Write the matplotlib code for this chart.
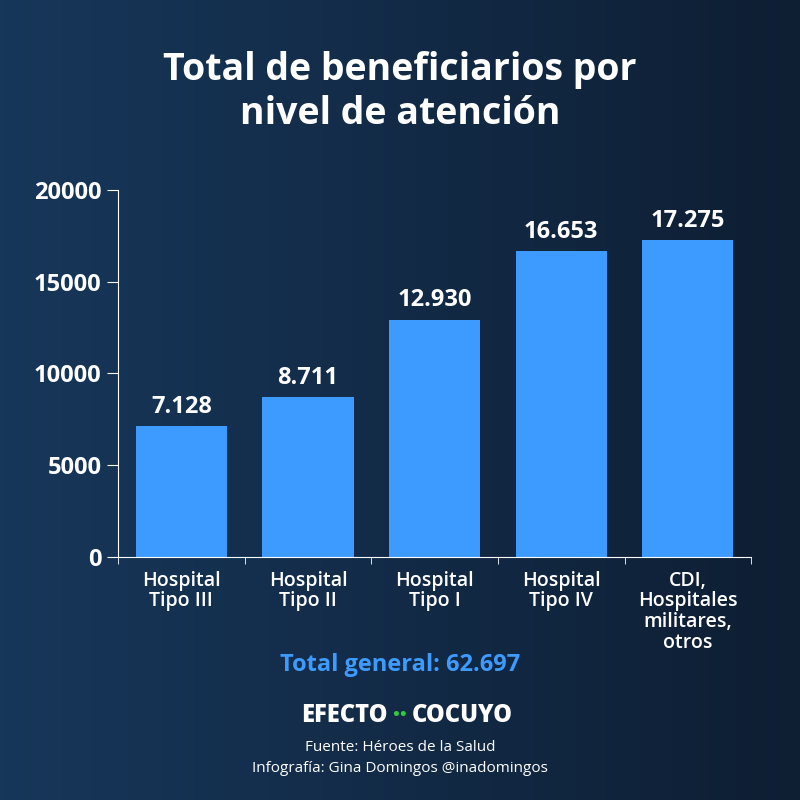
import matplotlib
matplotlib.use("Agg")
import matplotlib.pyplot as plt
import numpy as np
from matplotlib.colors import LinearSegmentedColormap

categories = ["Hospital\nTipo III", "Hospital\nTipo II", "Hospital\nTipo I", "Hospital\nTipo IV", "CDI,\nHospitales\nmilitares,\notros"]
values = [7128, 8711, 12930, 16653, 17275]
value_labels = ["7.128", "8.711", "12.930", "16.653", "17.275"]
yticks = [0, 5000, 10000, 15000, 20000]

plt.rcParams['font.family'] = ['Open Sans', 'DejaVu Sans']
fig = plt.figure(figsize=(8, 8), dpi=100)
bg = fig.add_axes([0, 0, 1, 1])
grad = np.linspace(0, 1, 256)[None, :]
cmap = LinearSegmentedColormap.from_list("bg", ["#17375a", "#0e1e33"])
bg.imshow(grad, aspect="auto", cmap=cmap, extent=[0, 1, 0, 1])
bg.axis("off")

ax = fig.add_axes([0.1475, 0.304, 0.7915, 0.4585])
ax.patch.set_alpha(0)
x = np.arange(len(categories))
ax.bar(x, values, width=0.72, color="#3d9bff", zorder=2)
for xi, v, l in zip(x, values, value_labels):
    ax.text(xi, v + 400, l, ha="center", va="bottom", color="white", fontsize=17, fontweight="bold")
ax.set_xlim(-0.5, 4.5)
ax.set_ylim(0, 20000)
ax.set_yticks(yticks)
ax.set_yticklabels([str(t) for t in yticks], color="white", fontsize=17, fontweight="bold")
ax.set_xticks(x)
ax.set_xticklabels(categories, color="white", fontsize=14, fontweight="semibold", linespacing=1.05)
ax.tick_params(axis="x", length=0, pad=10)
ax.set_xticks(np.arange(-0.5, 5.0, 1.0), minor=True)
ax.tick_params(axis="x", which="minor", length=5, color="white")
ax.tick_params(axis="y", length=8, color="white", pad=4)
for s in ["top", "right"]:
    ax.spines[s].set_visible(False)
for s in ["left", "bottom"]:
    ax.spines[s].set_color("white")

fig.text(0.5, 0.885, "Total de beneficiarios por\nnivel de atención", ha="center", va="center",
         color="white", fontsize=27, fontweight="bold", linespacing=1.2)
fig.text(0.5, 0.169, "Total general: 62.697", ha="center", va="center", color="#3d9bff",
         fontsize=17, fontweight="bold")
fig.text(0.485, 0.106, "EFECTO", ha="right", va="center", color="white", fontsize=17, fontweight="heavy")
fig.text(0.5, 0.106, "··", ha="center", va="center", color="#2ecc40", fontsize=17, fontweight="heavy")
fig.text(0.515, 0.106, "COCUYO", ha="left", va="center", color="white", fontsize=17, fontweight="heavy")
fig.text(0.5, 0.066, "Fuente: Héroes de la Salud", ha="center", va="center", color="white", fontsize=11)
fig.text(0.5, 0.04, "Infografía: Gina Domingos @inadomingos", ha="center", va="center", color="white", fontsize=11)
fig.savefig("out.png", dpi=100)
